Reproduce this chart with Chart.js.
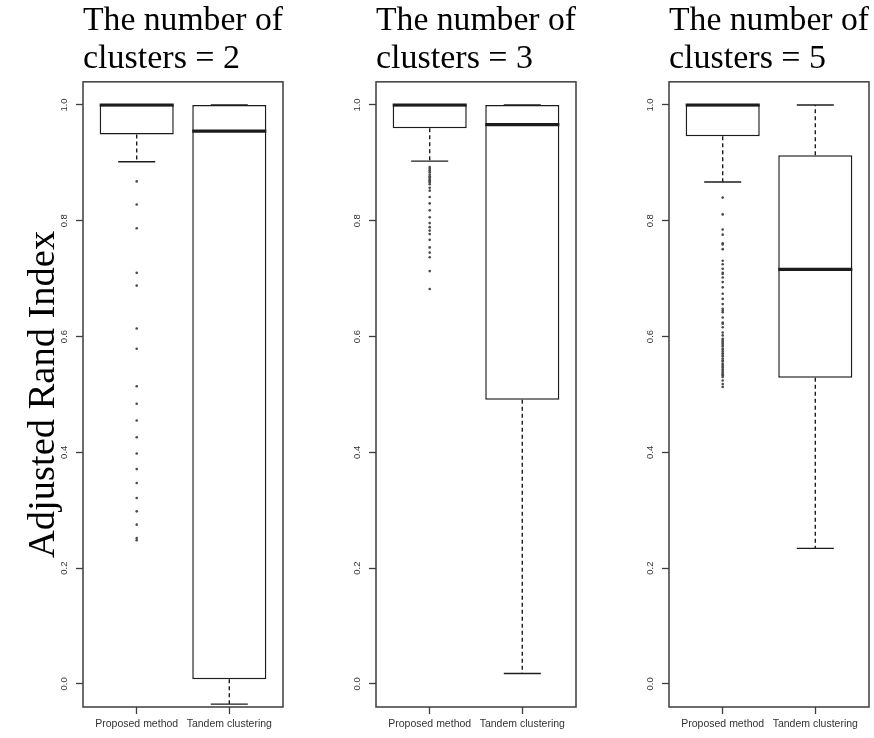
<!DOCTYPE html>
<html>
<head>
<meta charset="utf-8">
<script src="https://cdn.jsdelivr.net/npm/chart.js@4/dist/chart.umd.min.js"></script>
<style>
  html, body { margin: 0; padding: 0; background: #fff; }
  #wrap { position: relative; width: 874px; height: 738px; overflow: hidden; }
  #wrap canvas { position: absolute; top: 0; }
</style>
</head>
<body>
<div id="wrap">
  <canvas id="k2" width="288" height="738" style="left:0px"></canvas>
  <canvas id="k3" width="288" height="738" style="left:293px"></canvas>
  <canvas id="k5" width="288" height="738" style="left:586px"></canvas>
</div>
<script>
// Methods compared in every panel
const categories = ['Proposed method', 'Tandem clustering'];
const clusterCounts = [2, 3, 5];
const titleLead = 'The number of';
const yAxisLabel = 'Adjusted Rand Index';
const yTicks = [0.0, 0.2, 0.4, 0.6, 0.8, 1.0];

// Box-plot summaries, one entry per method: [Proposed, Tandem]
// 2 clusters
const k2Lower  = [0.902, -0.035];
const k2Q1     = [0.949, 0.008];
const k2Median = [1.000, 0.955];
const k2Q3     = [1.000, 1.000];
const k2Upper  = [1.000, 1.000];
const k2Outliers = [
  [0.868, 0.828, 0.787, 0.710, 0.688, 0.614, 0.579, 0.514, 0.484, 0.455,
   0.426, 0.398, 0.371, 0.347, 0.321, 0.298, 0.275, 0.252, 0.248],
  []
];

// 3 clusters
const k3Lower  = [0.903, 0.018];
const k3Q1     = [0.960, 0.491];
const k3Median = [1.000, 0.966];
const k3Q3     = [1.000, 1.000];
const k3Upper  = [1.000, 1.000];
const k3Outliers = [
  [0.893, 0.890, 0.887, 0.884, 0.880, 0.877, 0.875, 0.872, 0.870, 0.868,
   0.866, 0.863, 0.857, 0.852, 0.841, 0.830, 0.818, 0.806, 0.796, 0.789,
   0.783, 0.777, 0.767, 0.754, 0.745, 0.737, 0.713, 0.682],
  []
];

// 5 clusters
const k5Lower  = [0.867, 0.234];
const k5Q1     = [0.946, 0.529];
const k5Median = [1.000, 0.716];
const k5Q3     = [1.000, 0.913];
const k5Upper  = [1.000, 1.000];
const k5Outliers = [
  [0.840, 0.811, 0.785, 0.776, 0.761, 0.759, 0.751, 0.731, 0.725, 0.717,
   0.710, 0.708, 0.702, 0.694, 0.685, 0.674, 0.665, 0.656, 0.648, 0.645,
   0.642, 0.633, 0.624, 0.622, 0.616, 0.607, 0.602, 0.596, 0.594, 0.591,
   0.589, 0.586, 0.583, 0.579, 0.577, 0.574, 0.571, 0.568, 0.566, 0.562,
   0.559, 0.557, 0.553, 0.551, 0.548, 0.546, 0.543, 0.541, 0.538, 0.535,
   0.533, 0.530, 0.524, 0.518, 0.513],
  []
];

const panels = [
  { id: 'k2', k: clusterCounts[0], lower: k2Lower, q1: k2Q1, median: k2Median, q3: k2Q3, upper: k2Upper, outliers: k2Outliers },
  { id: 'k3', k: clusterCounts[1], lower: k3Lower, q1: k3Q1, median: k3Median, q3: k3Q3, upper: k3Upper, outliers: k3Outliers },
  { id: 'k5', k: clusterCounts[2], lower: k5Lower, q1: k5Q1, median: k5Median, q3: k5Q3, upper: k5Upper, outliers: k5Outliers }
];

Chart.defaults.font.family = '"Liberation Sans", Arial, sans-serif';

const INK = '#1c1c1c';
const FRAME = '#3c3c3c';
const BOX_HALF = 0.4;      // half of the box width, in x units
const CAP_HALF = 0.2;      // half of the whisker cap width

function segment(points, extra) {
  return Object.assign({
    type: 'line',
    data: points,
    borderColor: INK,
    borderWidth: 1.4,
    pointRadius: 0,
    pointHoverRadius: 0,
    fill: false,
    tension: 0,
    order: 0
  }, extra || {});
}

function buildDatasets(p) {
  const sets = [];
  // boxes from Q1 to Q3
  sets.push({
    type: 'bar',
    data: categories.map((_, i) => ({ x: i + 1, y: [p.q1[i], p.q3[i]] })),
    backgroundColor: '#ffffff',
    borderColor: INK,
    borderWidth: 1.5,
    borderSkipped: false,
    categoryPercentage: 0.8,
    barPercentage: 1.0,
    order: 10
  });
  categories.forEach((_, i) => {
    const x = i + 1;
    // whiskers (dashed) and caps
    sets.push(segment([{ x, y: p.q1[i] }, { x, y: p.lower[i] }], { borderDash: [4, 3] }));
    sets.push(segment([{ x, y: p.q3[i] }, { x, y: p.upper[i] }], { borderDash: [4, 3] }));
    sets.push(segment([{ x: x - CAP_HALF, y: p.lower[i] }, { x: x + CAP_HALF, y: p.lower[i] }]));
    sets.push(segment([{ x: x - CAP_HALF, y: p.upper[i] }, { x: x + CAP_HALF, y: p.upper[i] }]));
    // median
    sets.push(segment([{ x: x - BOX_HALF, y: p.median[i] }, { x: x + BOX_HALF, y: p.median[i] }], { borderWidth: 3.2, borderCapStyle: 'butt' }));
    // outlying observations
    if (p.outliers[i].length) {
      sets.push({
        type: 'scatter',
        data: p.outliers[i].map(v => ({ x, y: v })),
        pointRadius: 1.3,
        pointHoverRadius: 1.3,
        pointBackgroundColor: '#4a4a4a',
        pointBorderWidth: 0,
        order: 0
      });
    }
  });
  return sets;
}

const framePlugin = {
  id: 'plotFrame',
  afterDatasetsDraw(chart) {
    const { ctx, chartArea: a } = chart;
    ctx.save();
    ctx.strokeStyle = FRAME;
    ctx.lineWidth = 1.5;
    ctx.strokeRect(a.left, a.top, a.right - a.left, a.bottom - a.top);
    ctx.restore();
  }
};

const tickGrid = {
  display: true,
  drawOnChartArea: false,
  drawTicks: true,
  tickLength: 7,
  tickColor: FRAME,
  tickWidth: 1.3,
  offset: false
};

panels.forEach((p, idx) => {
  new Chart(document.getElementById(p.id), {
    type: 'bar',
    data: { datasets: buildDatasets(p) },
    plugins: [framePlugin],
    options: {
      responsive: false,
      animation: false,
      devicePixelRatio: 1,
      layout: { padding: { left: 0, right: 5, top: 0, bottom: 0 } },
      plugins: {
        legend: { display: false },
        tooltip: { enabled: false },
        title: {
          display: true,
          text: [titleLead, 'clusters = ' + p.k],
          align: 'start',
          fullSize: false,
          color: '#000',
          font: { family: '"Liberation Serif", "Times New Roman", serif', size: 34, weight: 'normal', lineHeight: 1.13 },
          padding: { top: 1.5, bottom: 3.5 }
        }
      },
      scales: {
        x: {
          type: 'linear',
          min: 0.42,
          max: 2.58,
          offset: false,
          afterBuildTicks: s => { s.ticks = categories.map((_, i) => ({ value: i + 1 })); },
          afterFit: s => { s.height = 31; },
          grid: tickGrid,
          border: { display: false },
          ticks: {
            callback: v => categories[v - 1],
            autoSkip: false,
            maxRotation: 0,
            padding: 4,
            color: '#333',
            font: { size: 10.5 }
          }
        },
        y: {
          type: 'linear',
          min: -0.04,
          max: 1.04,
          afterBuildTicks: s => { s.ticks = yTicks.map(v => ({ value: v })); },
          afterFit: s => { s.width = 83; },
          grid: tickGrid,
          border: { display: false },
          ticks: {
            callback: v => v.toFixed(1),
            autoSkip: false,
            minRotation: 90,
            maxRotation: 90,
            crossAlign: 'center',
            padding: 5,
            color: '#333',
            font: { size: 9.5 }
          },
          title: idx === 0 ? {
            display: true,
            text: yAxisLabel,
            color: '#000',
            font: { family: '"Liberation Serif", "Times New Roman", serif', size: 38.5, weight: 'normal', lineHeight: 1 },
            padding: { top: 25, bottom: 0 }
          } : { display: false }
        }
      }
    }
  });
});
</script>
</body>
</html>
